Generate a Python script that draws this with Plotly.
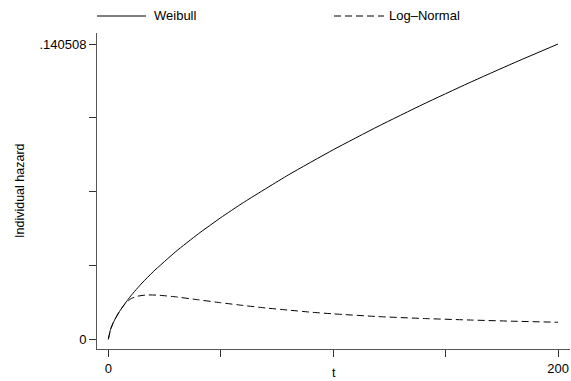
import plotly.graph_objects as go

# ---- data ----
t_weibull = [0, 1, 2, 3, 5, 7, 10, 15, 20, 30, 40, 50, 60, 80, 100, 120, 140, 160, 180, 200]
h_weibull = [0.0, 0.00473, 0.00737, 0.00957, 0.01325, 0.01640, 0.02065, 0.02678, 0.03219,
             0.04173, 0.05016, 0.05786, 0.06502, 0.07816, 0.09017, 0.10133, 0.11183,
             0.12181, 0.13134, 0.140508]

t_lognormal = [0, 1, 2, 3, 5, 7, 10, 13, 17, 22, 30, 40, 50, 60, 70, 80, 90, 100, 120, 140,
               160, 180, 200]
h_lognormal = [0.0, 0.0046, 0.0075, 0.0097, 0.0133, 0.0163, 0.0193, 0.0205, 0.0211, 0.0210,
               0.0202, 0.0188, 0.0174, 0.0161, 0.0149, 0.0139, 0.0129, 0.0121, 0.0108,
               0.0099, 0.0092, 0.0086, 0.0081]

x_tickvals = [0, 50, 100, 150, 200]
x_ticktext = ["0", "", "", "", "200"]
y_max = 0.140508
y_tickvals = [0, y_max / 4, y_max / 2, 3 * y_max / 4, y_max]
y_ticktext = ["0", "", "", "", ".140508"]

series_names = ["Weibull", "Log–Normal"]

FONT = "Liberation Sans, Arial, Helvetica, sans-serif"

fig = go.Figure()
fig.add_trace(go.Scatter(x=t_weibull, y=h_weibull, mode="lines", name=series_names[0],
                         line=dict(color="black", width=1, shape="spline", smoothing=0.5),
                         showlegend=False))
fig.add_trace(go.Scatter(x=t_lognormal, y=h_lognormal, mode="lines", name=series_names[1],
                         line=dict(color="black", width=1, dash="7px,4px", shape="spline", smoothing=0.4),
                         showlegend=False))

fig.update_layout(
    width=571, height=381,
    margin=dict(l=97, r=1, t=33, b=32),
    paper_bgcolor="white", plot_bgcolor="white",
    font=dict(family=FONT, size=13, color="black"),
    xaxis=dict(range=[-5.03, 205.33], tickvals=x_tickvals, ticktext=x_ticktext,
               showgrid=False, zeroline=False, showline=True, linecolor="#555", linewidth=1,
               ticks="outside", ticklen=7, tickcolor="#333", tickwidth=1,
               tickfont=dict(size=13)),
    yaxis=dict(range=[-0.00462, 0.14575], tickvals=y_tickvals, ticktext=y_ticktext,
               showgrid=False, zeroline=False, showline=True, linecolor="#555", linewidth=1,
               ticks="outside", ticklen=7, tickcolor="#333", tickwidth=1,
               tickfont=dict(size=13)),
    showlegend=False,
)

# axis titles
fig.add_annotation(text="Individual hazard", xref="paper", yref="paper", x=0, y=0.5,
                   xshift=-77, textangle=-90, showarrow=False, font=dict(size=12.5),
                   xanchor="center", yanchor="middle")
fig.add_annotation(text="t", xref="paper", yref="paper", x=(334 - 97) / 473, y=0,
                   yshift=-24, showarrow=False, font=dict(size=12.5),
                   xanchor="center", yanchor="middle")

# legend keys at top
ly = (349 - 16) / 316
fig.add_shape(type="line", xref="paper", yref="paper", x0=0, x1=(146 - 97) / 473, y0=ly, y1=ly,
              line=dict(color="black", width=1))
fig.add_annotation(text=series_names[0], xref="paper", yref="paper", x=(152 - 97) / 473, y=ly,
                   xanchor="left", yanchor="middle", showarrow=False, font=dict(size=13))
fig.add_shape(type="line", xref="paper", yref="paper", x0=(334 - 97) / 473, x1=(384 - 97) / 473,
              y0=ly, y1=ly, line=dict(color="black", width=1, dash="7px,4px"))
fig.add_annotation(text=series_names[1], xref="paper", yref="paper", x=(387 - 97) / 473, y=ly,
                   xanchor="left", yanchor="middle", showarrow=False, font=dict(size=13))

fig.write_html("out.html")
